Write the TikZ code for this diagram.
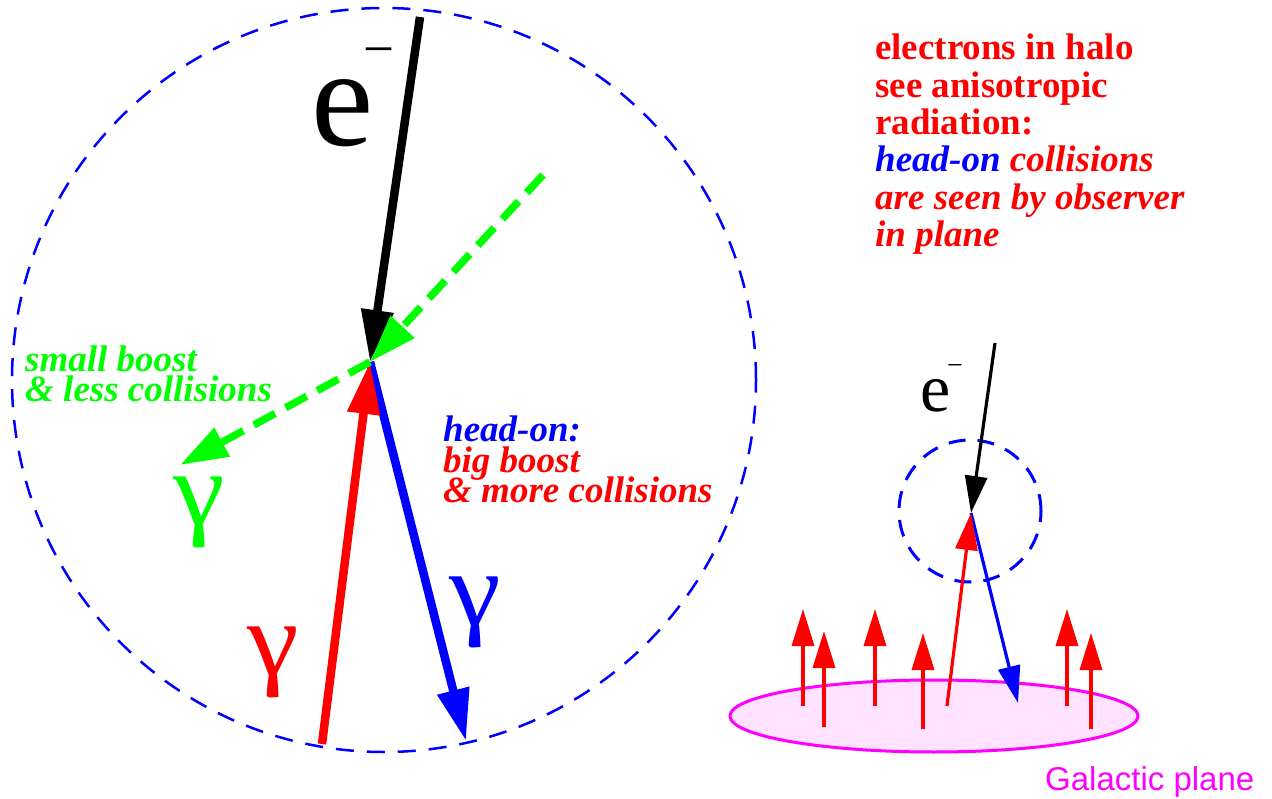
\documentclass[tikz,border=0pt]{standalone}
\usepackage{fontspec}
\setmainfont{Liberation Serif}
\newfontfamily\galsans{Liberation Sans}
\usetikzlibrary{arrows.meta}
\definecolor{fgreen}{RGB}{0,255,0}
\definecolor{fred}{RGB}{255,0,0}
\definecolor{fblue}{RGB}{0,0,255}
\definecolor{fmag}{RGB}{255,0,255}
\definecolor{fpink}{RGB}{255,226,255}
\begin{document}
\begin{tikzpicture}[x=1pt,y=-1pt,
  lbl/.style={anchor=base west, inner sep=0pt, font=\fontsize{37}{37}\selectfont\bfseries},
  lbli/.style={anchor=base west, inner sep=0pt, font=\fontsize{37}{37}\selectfont\bfseries\itshape},
  gam/.style={inner sep=0pt, font=\fontsize{106}{106}\selectfont, xscale=1.1},
  halo/.style={draw=fblue, line width=2.5pt, dash pattern=on 18pt off 13pt},
  bigarrow/.style={line width=8.5pt, -{Triangle[length=52pt,width=31pt]}},
  greenarrow/.style={fgreen, line width=7.5pt, dash pattern=on 24pt off 12pt, -{Triangle[length=48pt,width=31pt]}},
  smallarrow/.style={line width=3.2pt, -{Triangle[length=37pt,width=22pt]}},
  uparrow/.style={fred, line width=3.5pt, -{Triangle[length=37pt,width=22pt]}}
]
\useasboundingbox (0,0) rectangle (1272,799);

% big halo circle
\draw[halo] (384,380) circle[radius=372pt];

% coordinates
\coordinate (O) at (370,362);
\coordinate (eTop) at (420,17);
\coordinate (gIn) at (543,175);
\coordinate (gOut) at (180,465);
\coordinate (rBot) at (322,744);
\coordinate (bEnd) at (466,741);

\draw[bigarrow, fblue] (O) -- (bEnd);
\draw[bigarrow, fred] (rBot) -- (O);
\draw[bigarrow, black] (eTop) -- (O);
\draw[greenarrow] (gIn) -- (O);
\draw[greenarrow] (O) -- (gOut);

% labels big picture
\node[inner sep=0pt, font=\fontsize{140}{140}\selectfont] (ebig) at (343,113) {e};
\node[inner sep=0pt, font=\fontsize{55}{55}\selectfont] (ebigm) at (379,58) {−};

\node[lbli, text=fgreen] (sb1) at (25,372) {small boost};
\node[lbli, text=fgreen] (sb2) at (25,402) {\& less collisions};

\node[lbli, text=fblue] (ho1) at (443,442) {head-on:};
\node[lbli, text=fred] (ho2) at (443,472) {big boost};
\node[lbli, text=fred] (ho3) at (443,502) {\& more collisions};

\node[gam, text=fgreen] (gg) at (199,512) {γ};
\node[gam, text=fred] (gr) at (273,662) {γ};
\node[gam, text=fblue] (gb) at (475,612) {γ};

% right text
\node[lbl, text=fred] (t1) at (875,60) {electrons in halo};
\node[lbl, text=fred] (t2) at (875,98) {see anisotropic};
\node[lbl, text=fred] (t3) at (875,135) {radiation:};
\node[lbli, text=fred] (t4) at (875,172) {\textcolor{fblue}{head-on} collisions};
\node[lbli, text=fred] (t5) at (875,210) {are seen by observer};
\node[lbli, text=fred] (t6) at (875,247) {in plane};

% galactic plane
\draw[fmag, fill=fpink, line width=3pt] (934,716) ellipse[x radius=204pt, y radius=36pt];
\node[inner sep=0pt, anchor=base west, text=fmag, font=\galsans\fontsize{33}{33}\selectfont] (gp) at (1045,790) {Galactic plane};

% small halo
\draw[draw=fblue, line width=3pt, dash pattern=on 17pt off 12pt] (970,511) circle[radius=71pt];

\coordinate (o) at (971,513);
\coordinate (eTop2) at (995,343);
\coordinate (rBot2) at (947,706);
\coordinate (bEnd2) at (1018,703);

\draw[smallarrow, fblue] (o) -- (bEnd2);
\draw[smallarrow, fred] (rBot2) -- (o);
\draw[smallarrow, black] (eTop2) -- (o);

\node[inner sep=0pt, font=\fontsize{68}{68}\selectfont] (esm) at (936,396) {e};
\node[inner sep=0pt, font=\fontsize{28}{28}\selectfont] (esmm) at (955,370) {−};

% upward arrows from plane
\coordinate (a1b) at (803,706); \coordinate (a1t) at (803,609);
\coordinate (a2b) at (824,727); \coordinate (a2t) at (824,631);
\coordinate (a3b) at (875,706); \coordinate (a3t) at (875,609);
\coordinate (a4b) at (923,729); \coordinate (a4t) at (923,633);
\coordinate (a5b) at (1067,706); \coordinate (a5t) at (1067,609);
\coordinate (a6b) at (1091,729); \coordinate (a6t) at (1091,633);
\foreach \i in {1,...,6} {\draw[uparrow] (a\i b) -- (a\i t);}
\end{tikzpicture}
\end{document}
